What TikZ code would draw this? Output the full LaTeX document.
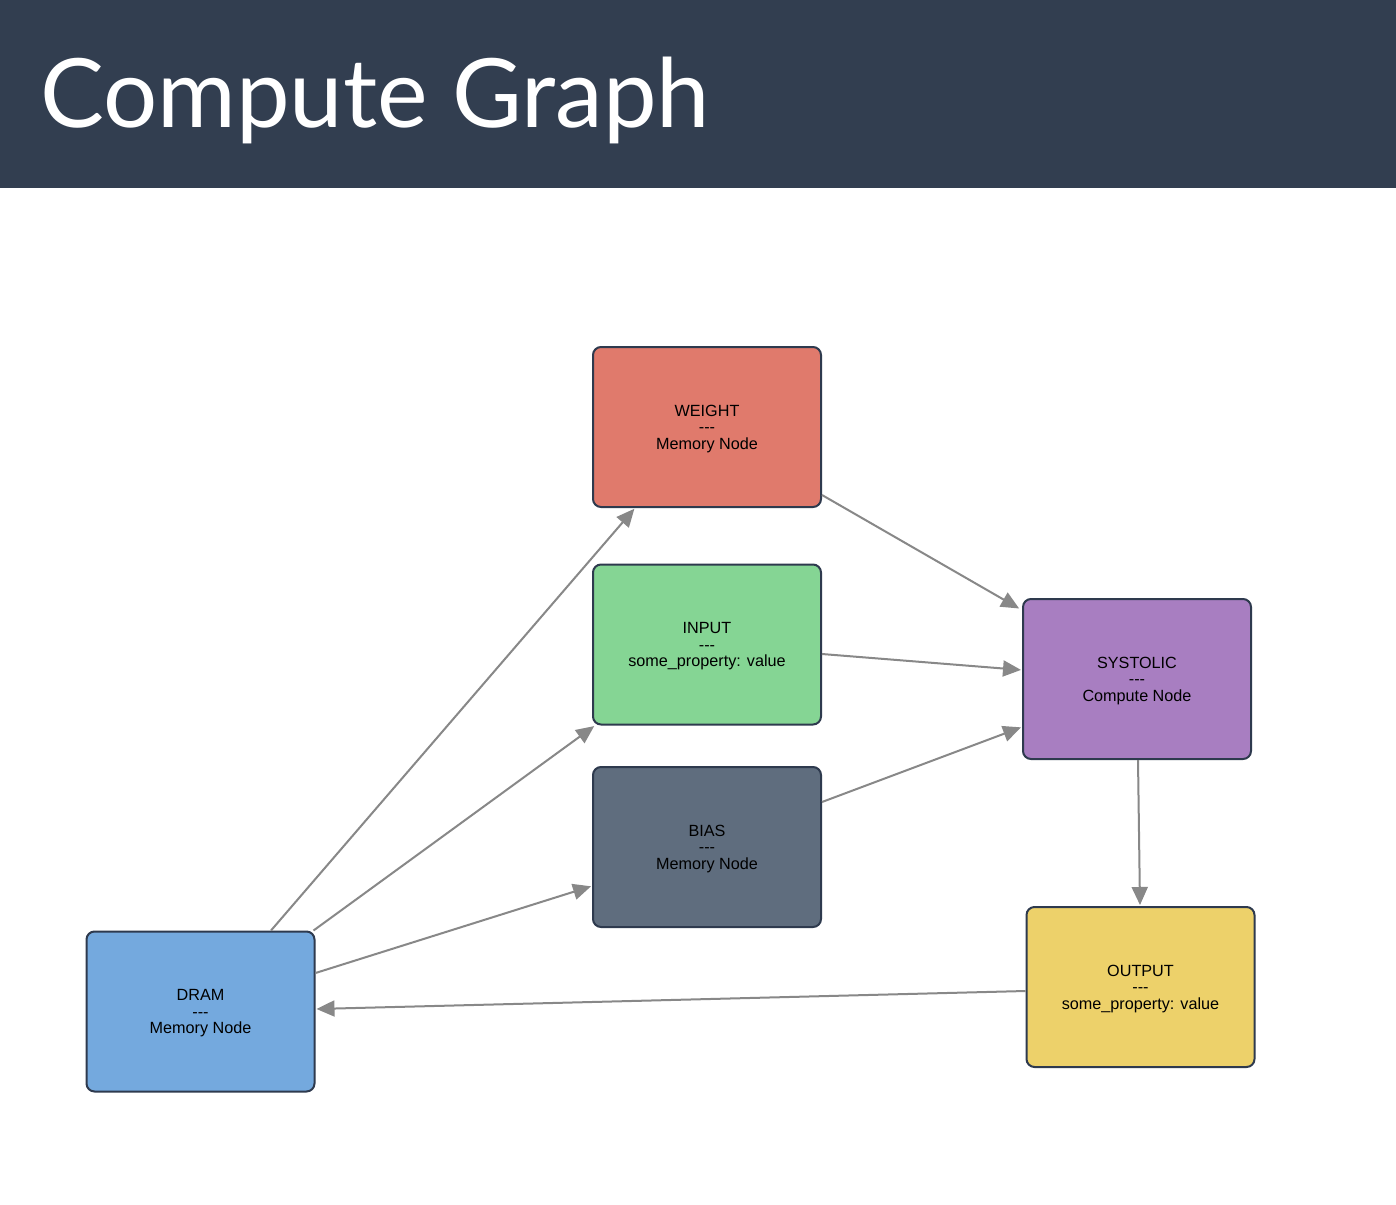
\documentclass[tikz,border=0pt]{standalone}
\usepackage{fontspec}
\setmainfont{Liberation Sans}[Ligatures=NoCommon]
\newfontfamily\titlefont{Lato}
\usetikzlibrary{arrows.meta}
\definecolor{hdr}{HTML}{323E50}
\definecolor{bord}{HTML}{2E3A4E}
\definecolor{edgec}{HTML}{888888}
\definecolor{cweight}{HTML}{E07A6C}
\definecolor{cinput}{HTML}{85D594}
\definecolor{cbias}{HTML}{5F6D7E}
\definecolor{csys}{HTML}{A87EC1}
\definecolor{cout}{HTML}{EDD16A}
\definecolor{cdram}{HTML}{74A9DE}
\newcommand{\dashes}{-{}-{}-}
\newcommand{\toprow}[1]{\raisebox{0pt}[\dimexpr\height+4pt\relax]{#1}}
\begin{document}
\begin{tikzpicture}[x=1pt,y=-1pt,
  gnode/.style={draw=bord, line width=2pt, rounded corners=8pt, minimum width=228pt, minimum height=160pt,
    align=center, inner sep=0pt, font=\fontsize{16.2}{16.5}\selectfont},
  conn/.style={draw=edgec, line width=2pt, -{Triangle[length=18pt,width=16pt]}, shorten >=1pt}]
\useasboundingbox (0,0) rectangle (1396,1204);
\fill[white] (0,0) rectangle (1396,1204);
\fill[hdr] (0,0) rectangle (1396,188);
\node[anchor=base west, text=white, inner sep=0pt, font=\titlefont\fontsize{95.7}{100}\selectfont] (title) at (40,128) {Compute Graph};

\node[gnode, fill=cweight] (weight) at (707,427) {\toprow{WEIGHT}\\\dashes\\Memory Node};
\node[gnode, fill=cinput] (input) at (707,644.5) {\toprow{INPUT}\\\dashes\\some\_property: value};
\node[gnode, fill=cbias] (bias) at (707,847) {\toprow{BIAS}\\\dashes\\Memory Node};
\node[gnode, fill=csys] (systolic) at (1137,679) {\toprow{SYSTOLIC}\\\dashes\\Compute Node};
\node[gnode, fill=cout] (output) at (1140.5,987) {\toprow{OUTPUT}\\\dashes\\some\_property: value};
\node[gnode, fill=cdram] (dram) at (200.5,1011.5) {\toprow{DRAM}\\\dashes\\Memory Node};

\draw[conn] ([xshift=70.5pt]dram.north) -- ([xshift=-72pt]weight.south);
\draw[conn] ([xshift=-2pt]dram.north east) -- ([xshift=3pt]input.south west);
\draw[conn] ([yshift=38.5pt]dram.east) -- ([yshift=-39pt]bias.west);
\draw[conn] ([yshift=-4pt]output.west) -- ([yshift=2.5pt]dram.east);
\draw[conn] ([yshift=-68pt]weight.east) -- ([xshift=-2pt,yshift=-11pt]systolic.north west);
\draw[conn] ([yshift=-9.5pt]input.east) -- ([yshift=9pt]systolic.west);
\draw[conn] ([yshift=45pt]bias.east) -- ([yshift=-48pt]systolic.west);
\draw[conn] ([xshift=1pt]systolic.south) -- ([xshift=-0.5pt]output.north);
\end{tikzpicture}
\end{document}
